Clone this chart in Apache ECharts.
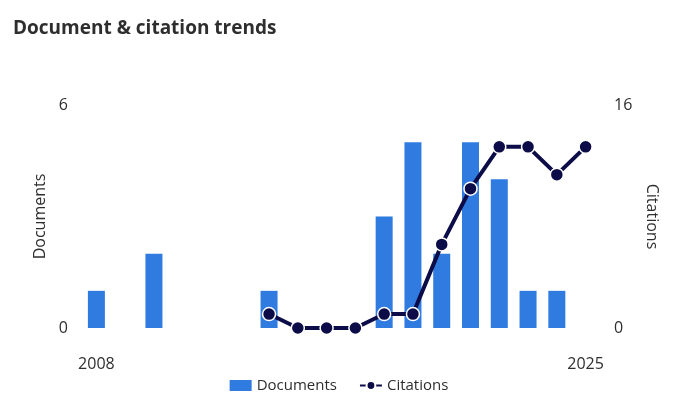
<!DOCTYPE html>
<html><head><meta charset="utf-8">
<script src="https://cdn.jsdelivr.net/npm/echarts@6/dist/echarts.min.js"></script>
<style>html,body{margin:0;padding:0;background:#fff}#c{width:678px;height:418px}</style>
</head><body><div id="c"></div>
<script>
const years = ['2008','2009','2010','2011','2012','2013','2014','2015','2016','2017','2018','2019','2020','2021','2022','2023','2024','2025'];
const documents = [1,0,2,0,0,0,1,0,0,0,3,5,2,5,4,1,1,0];
const citations = [null,null,null,null,null,null,1,0,0,0,1,1,6,10,13,13,11,13];
const font = '"Open Sans", Lato, sans-serif';
const chart = echarts.init(document.getElementById('c'));
chart.setOption({
  animation:false,
  title:{text:'Document & citation trends',left:8,top:14,textStyle:{fontFamily:font,fontSize:19,fontWeight:'bold',color:'#2e2e2e'}},
  legend:{bottom:20,left:'center',itemGap:22,itemWidth:22,itemHeight:11,textStyle:{fontFamily:font,fontSize:15,color:'#2e2e2e'},
    data:[{name:'Documents',icon:'rect',itemWidth:11},{name:'Citations'}]},
  grid:{left:82,right:78,top:105,bottom:90},
  xAxis:{type:'category',data:years,axisLine:{show:false},axisTick:{show:false},
    axisLabel:{margin:28,fontFamily:font,fontSize:16,color:'#2e2e2e',interval:0,
      formatter:(v,i)=>(i===0||i===years.length-1)?v:''}},
  yAxis:[
    {type:'value',min:0,max:6,interval:6,name:'Documents',nameLocation:'middle',nameGap:28,
     nameTextStyle:{fontFamily:font,fontSize:16,color:'#2e2e2e'},splitLine:{show:false},
     axisLabel:{fontFamily:font,fontSize:16,color:'#2e2e2e',margin:14}},
    {type:'value',min:0,max:16,interval:16,name:'Citations',nameLocation:'middle',nameGap:28,nameRotate:-90,
     nameTextStyle:{fontFamily:font,fontSize:16,color:'#2e2e2e'},splitLine:{show:false},
     axisLabel:{fontFamily:font,fontSize:16,color:'#2e2e2e',margin:14}}
  ],
  series:[
    {name:'Documents',type:'bar',data:documents,barWidth:17,itemStyle:{color:'#2f7be0'}},
    {name:'Citations',type:'line',yAxisIndex:1,data:citations,symbol:'circle',symbolSize:13,
     lineStyle:{color:'#0c0c48',width:4},itemStyle:{color:'#0c0c48',borderColor:'#fff',borderWidth:1.5}}
  ]
});
</script></body></html>
